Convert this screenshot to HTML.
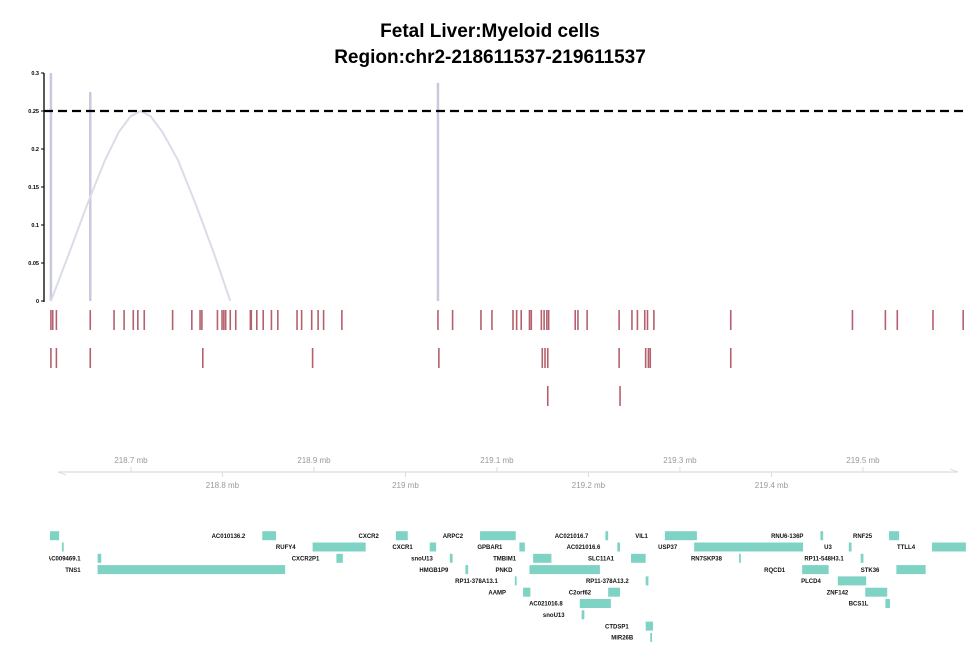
<!DOCTYPE html>
<html><head><meta charset="utf-8"><style>
html,body{margin:0;padding:0;background:#fff;}
svg{display:block;font-family:"Liberation Sans",sans-serif;}
</style></head><body>
<svg id="chart" width="980" height="653" viewBox="0 0 980 653">
<text x="490" y="37" text-anchor="middle" font-size="19" font-weight="bold">Fetal Liver:Myeloid cells</text>
<text x="490" y="63" text-anchor="middle" font-size="19" font-weight="bold">Region:chr2-218611537-219611537</text>
<defs><clipPath id="gclip"><rect x="49" y="520" width="931" height="133"/></clipPath></defs>
<g id="cov"></g>
<g id="peaks"></g>
<g id="axis"></g>
<g id="genes" clip-path="url(#gclip)"></g>
</svg>
<script>
// genomic offsets in kb from region start (218611537)
const arcKb = [1,20,40,60,75,88,99,110,123,140,160,180,197];
const arcVals = [0,0.06,0.125,0.185,0.222,0.243,0.25,0.243,0.222,0.185,0.125,0.06,0];
const barKb = [1,44,424];
const barVals = [0.3,0.275,0.287];
const threshold = 0.25;
const yTicks = [0,0.05,0.1,0.15,0.2,0.25,0.3];
const yTickLabels = ["0","0.05","0.1","0.15","0.2","0.25","0.3"];
const peaksRow1 = [1,3,7,44,70,81,91,96,103,134,155,164,166,183,188,190,192,197,203,219,220,226,233,242,249,270,275,286,293,299,319,424,440,471,483,506,510,515,524,526,537,540,543,545,574,577,587,622,636,642,650,653,660,744,877,913,926,965,998];
const peaksRow2 = [1,7,44,167,287,425,538,541,544,622,651,654,656,744];
const peaksRow3 = [544,623];
const axisTopMb = [218.7,218.9,219.1,219.3,219.5];
const axisBotMb = [218.8,219.0,219.2,219.4];
const axisBotLabels = ["218.8 mb","219 mb","219.2 mb","219.4 mb"];
const geneNames = ["","AC010136.2","CXCR2","ARPC2","AC021016.7","VIL1","RNU6-136P","RNF25",
 "","RUFY4","CXCR1","GPBAR1","AC021016.6","USP37","U3","TTLL4",
 "AC009469.1","CXCR2P1","snoU13","TMBIM1","SLC11A1","RN7SKP38","RP11-548H3.1",
 "TNS1","HMGB1P9","PNKD","RQCD1","STK36",
 "RP11-378A13.1","RP11-378A13.2","PLCD4",
 "AAMP","C2orf62","ZNF142",
 "AC021016.8","BCS1L","snoU13","CTDSP1","MIR26B"];
const geneStart = [0,232,378,470,607,672,842,917, 13,287,415,513,620,704,873,964, 52,313,437,528,635,753,886, 52,454,524,822,925, 508,651,861, 517,610,891, 579,913, 581,651,656];
const geneEnd = [10,247,391,509,610,707,845,928, 15,345,422,519,623,823,876,1001, 56,320,440,548,651,755,889, 257,457,601,851,957, 510,654,892, 525,623,915, 613,918, 584,659,658];
const geneRow = [0,0,0,0,0,0,0,0, 1,1,1,1,1,1,1,1, 2,2,2,2,2,2,2, 3,3,3,3,3, 4,4,4, 5,5,5, 6,6, 7,8,9];

const NS="http://www.w3.org/2000/svg";
const X0=50, PXKB=0.915;
const xKb = kb => X0 + kb*PXKB;
const xMb = mb => X0 + (mb-218.611537)*1000*PXKB;
const yCov = v => 301 - v*(228/0.3);
function mk(tag, attrs, parent, text){const e=document.createElementNS(NS,tag);for(const k in attrs)e.setAttribute(k,attrs[k]);if(text!==undefined)e.textContent=text;parent.appendChild(e);return e;}

const cov=document.getElementById('cov');
let ya=mk('line',{x1:44,y1:yCov(0.3),x2:44,y2:yCov(0)+1,stroke:'#000','stroke-width':1.3},cov);


yTicks.forEach((t,i)=>{
  const tk=mk('line',{x1:41,x2:44,y1:yCov(t),y2:yCov(t),stroke:'#000','stroke-width':1},cov);
  
  
  const tl=mk('text',{x:39,y:yCov(t)+2,'text-anchor':'end','font-size':5.5,'font-weight':'bold'},cov,yTickLabels[i]);
  
  
});
barKb.forEach((k,i)=>{
  const b=mk('line',{x1:xKb(k),x2:xKb(k),y1:yCov(barVals[i]),y2:yCov(0),stroke:'#c9c9de','stroke-width':2.5},cov);
  
  
});
const pts=arcKb.map((k,i)=>xKb(k)+','+yCov(arcVals[i]));
const arc=mk('polyline',{points:pts.join(' '),fill:'none',stroke:'#dcdce8','stroke-width':2,'stroke-linejoin':'round'},cov);


const th=mk('line',{x1:44,x2:965,y1:yCov(threshold),y2:yCov(threshold),stroke:'#000','stroke-width':2.3,'stroke-dasharray':'9,5'},cov);



const pk=document.getElementById('peaks');
[[peaksRow1,310],[peaksRow2,348],[peaksRow3,386]].forEach(([arr,y])=>{
  arr.forEach(k=>{
    const r=mk('rect',{x:xKb(k)-0.8,y:y,width:1.6,height:20,fill:'#b5616d'},pk);
    
    
  });
});

const ax=document.getElementById('axis');
mk('line',{x1:58,x2:958,y1:472,y2:472,stroke:'#ddd','stroke-width':1.2},ax);
mk('path',{d:'M58,472 L66,475 M958,472 L950,469',stroke:'#ddd','stroke-width':1,fill:'none'},ax);
axisTopMb.forEach(m=>{
  const x=xMb(m);
  mk('line',{x1:x,x2:x,y1:472,y2:467,stroke:'#ddd'},ax);
  const t=mk('text',{x:x,y:463,'text-anchor':'middle','font-size':8,fill:'#999'},ax,m.toFixed(1)+' mb');
  
  
});
axisBotMb.forEach((m,i)=>{
  const x=xMb(m);
  mk('line',{x1:x,x2:x,y1:472,y2:477,stroke:'#ddd'},ax);
  const t=mk('text',{x:x,y:488,'text-anchor':'middle','font-size':8,fill:'#999'},ax,axisBotLabels[i]);
  
  
});

const gg=document.getElementById('genes');
geneNames.forEach((n,i)=>{
  const yc=535.7+geneRow[i]*11.3;
  const x0=xKb(geneStart[i]), x1=xKb(geneEnd[i]);
  const r=mk('rect',{x:x0,y:yc-4.5,width:Math.max(x1-x0,1.5),height:9,fill:'#7fd3c4'},gg);
  
  
  if(n){
    const t=mk('text',{x:x0-17,y:yc+2.2,'text-anchor':'end','font-size':6,'font-weight':'bold',fill:'#111'},gg,n);
    
    
  }
});
</script>
</body></html>
